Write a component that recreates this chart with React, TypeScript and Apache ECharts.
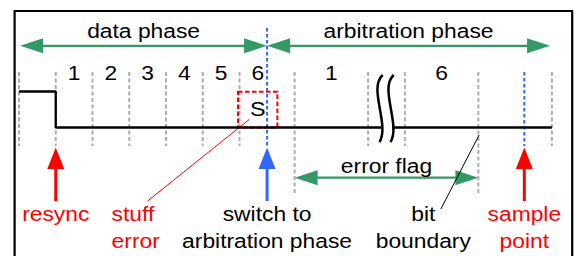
import React, { useEffect, useRef } from 'react';
import * as echarts from 'echarts';

// ---------- data (time in data-phase bit times, level 1 = recessive/high) ----------
const dataBitNumbers = ['1', '2', '3', '4', '5', '6'];
const dataBitCenters = [1.5, 2.5, 3.5, 4.5, 5.5, 6.5];
const arbBitNumbers = ['1', '6'];
const arbBitCenters = [8.5, 11.5];
const dataBitBoundaries = [0, 1, 2, 3, 4, 5, 6];
const arbBitBoundaries = [7.5, 9.5, 10.5, 12.5, 14.5];
const errorFlagRange = [7.5, 12.5];
const dataPhaseRange = [0.03, 6.75];
const arbPhaseRange = [6.75, 14.45];
const switchTime = 6.75;
const samplePointTime = 13.75;
const resyncTime = 1;
const stuffBitRange = [5.96, 7.03];
const signalBeforeBreak = [[0, 1], [1, 1], [1, 0], [9.86, 0]];
const signalAfterBreak = [[10.16, 0], [14.5, 0]];
const breakCurveTimes = [9.896, 10.196];
const stuffPointer = [[3.5, 201], [6.27, 119.3]]; // [time, row]
const boundaryPointer = [[11.48, 209], [12.52, 135]];
const bitBoundaryLabelTime = 11.0;
const stuffLabelTime = 2.52;

const phaseLabels = ['data phase', 'arbitration phase'];
const resyncLabel = ['resync'];
const stuffLabel = ['stuff', 'error'];
const switchLabel = ['switch to', 'arbitration phase'];
const boundaryLabel = ['bit', 'boundary'];
const sampleLabel = ['sample', 'point'];
const errorFlagLabel = 'error flag';
const stuffBitLabel = 'S';

// ---------- layout ----------
const W = 574;
const H = 256;
const X0 = 19;
const PX_PER_BIT = 36.75;
const T_MAX = 14.5;
const LOW_ROW = 127.5;
const PX_PER_LEVEL = 36;
const lv = (row: number) => (LOW_ROW - row) / PX_PER_LEVEL;

const GREEN = '#339966';
const RED = '#ff0000';
const BLUE = '#3366ff';
const GRAY = '#adadad';
const FONT = '"Liberation Sans", Arial, Helvetica, sans-serif';
const FS = 19.5;
const SX = 1.17;

function renderDiagram(_params: any, api: any) {
  const P = (t: number, row: number) => api.coord([t, lv(row)]);
  const kids: any[] = [];

  const vline = (t: number, r1: number, r2: number, color: string, dash: number[], w = 2) => {
    const a = P(t, r1);
    const b = P(t, r2);
    kids.push({ type: 'line', shape: { x1: a[0], y1: a[1], x2: b[0], y2: b[1] }, style: { stroke: color, lineWidth: w, lineDash: dash } });
  };
  const text = (t: number, baseline: number, str: string, color: string, align = 'center', size = FS) => {
    const p = P(t, baseline - 0.3465 * size);
    kids.push({
      type: 'text', x: p[0], y: p[1], scaleX: SX, z2: 10,
      style: { text: str, fill: color, fontSize: size, fontFamily: FONT, align, verticalAlign: 'middle' },
    });
  };
  const hArrow = (t1: number, t2: number, row: number) => {
    const a = P(t1, row);
    const b = P(t2, row);
    const L = 23, h = 7.5;
    kids.push({ type: 'line', shape: { x1: a[0] + L - 2, y1: a[1], x2: b[0] - L + 2, y2: b[1] }, style: { stroke: GREEN, lineWidth: 2.2 } });
    kids.push({ type: 'polygon', shape: { points: [[a[0], a[1]], [a[0] + L, a[1] - h], [a[0] + L, a[1] + h]] }, style: { fill: GREEN } });
    kids.push({ type: 'polygon', shape: { points: [[b[0], b[1]], [b[0] - L, b[1] - h], [b[0] - L, b[1] + h]] }, style: { fill: GREEN } });
  };
  const upArrow = (t: number, color: string) => {
    const tip = P(t, 147.5);
    const base = P(t, 169);
    const tail = P(t, 201);
    kids.push({ type: 'line', shape: { x1: base[0], y1: base[1] - 1, x2: tail[0], y2: tail[1] }, style: { stroke: color, lineWidth: 3 } });
    kids.push({ type: 'polygon', shape: { points: [[tip[0], tip[1]], [base[0] - 8.5, base[1]], [base[0] + 8.5, base[1]]] }, style: { fill: color } });
  };

  // bit boundaries
  const grayDash = [4, 2.5];
  [...dataBitBoundaries, ...arbBitBoundaries].forEach((t) => {
    const bottom = errorFlagRange.includes(t) ? 193 : 146;
    vline(t, 72, bottom, GRAY, grayDash, 2);
  });
  // switch & sample point lines
  vline(switchTime, 28, 146, BLUE, [3.5, 2.5], 2);
  vline(samplePointTime, 72, 146, BLUE, [3.5, 2.5], 2);

  // phase arrows
  hArrow(dataPhaseRange[0], dataPhaseRange[1], 45.8);
  hArrow(arbPhaseRange[0], arbPhaseRange[1], 45.8);
  hArrow(errorFlagRange[0], errorFlagRange[1], 177.7);

  // stuff bit box
  {
    const a = P(stuffBitRange[0], 91.7);
    const b = P(stuffBitRange[1], LOW_ROW);
    kids.push({ type: 'rect', shape: { x: a[0], y: a[1], width: b[0] - a[0], height: b[1] - a[1] }, style: { fill: 'none', stroke: RED, lineWidth: 2, lineDash: [4.5, 2.5] } });
  }

  // break curves
  breakCurveTimes.forEach((t) => {
    const o = P(t, 75);
    const x = o[0];
    const y0 = o[1];
    kids.push({
      type: 'bezierCurve',
      shape: { x1: x, y1: y0, cpx1: x - 14.7, cpy1: y0 + 13, cpx2: x + 7.3, cpy2: y0 + 50, x2: x - 3.2, y2: y0 + 67 },
      style: { stroke: '#000', lineWidth: 2.5, fill: 'none' },
    });
  });

  // up arrows
  upArrow(resyncTime, RED);
  upArrow(switchTime, BLUE);
  upArrow(samplePointTime, RED);

  // pointer lines
  {
    const a = P(stuffPointer[0][0], stuffPointer[0][1]);
    const b = P(stuffPointer[1][0], stuffPointer[1][1]);
    kids.push({ type: 'line', shape: { x1: a[0], y1: a[1], x2: b[0], y2: b[1] }, style: { stroke: RED, lineWidth: 1 } });
    const c = P(boundaryPointer[0][0], boundaryPointer[0][1]);
    const d = P(boundaryPointer[1][0], boundaryPointer[1][1]);
    kids.push({ type: 'line', shape: { x1: c[0], y1: c[1], x2: d[0], y2: d[1] }, style: { stroke: '#000', lineWidth: 1 } });
  }

  // texts
  text((dataPhaseRange[0] + dataPhaseRange[1]) / 2, 38.3, phaseLabels[0], '#000');
  text((arbPhaseRange[0] + arbPhaseRange[1]) / 2, 38.3, phaseLabels[1], '#000');
  dataBitNumbers.forEach((s, i) => text(dataBitCenters[i], 80, s, '#000'));
  arbBitNumbers.forEach((s, i) => text(arbBitCenters[i], 80, s, '#000'));
  text((stuffBitRange[0] + stuffBitRange[1]) / 2, 116, stuffBitLabel, '#000', 'center', 20);
  text((errorFlagRange[0] + errorFlagRange[1]) / 2, 172.7, errorFlagLabel, '#000');
  text(resyncTime, 221, resyncLabel[0], RED);
  text(stuffLabelTime, 221, stuffLabel[0], RED, 'left');
  text(stuffLabelTime, 248, stuffLabel[1], RED, 'left');
  text(switchTime, 221, switchLabel[0], '#000');
  text(switchTime, 248, switchLabel[1], '#000');
  text(bitBoundaryLabelTime, 221, boundaryLabel[0], '#000');
  text(bitBoundaryLabelTime, 248, boundaryLabel[1], '#000');
  text(samplePointTime, 221, sampleLabel[0], RED);
  text(samplePointTime, 248, sampleLabel[1], RED);

  return { type: 'group', children: kids };
}

function buildOption() {
  const signalStyle = { color: '#000', width: 2.3 };
  return {
    animation: false,
    backgroundColor: '#fff',
    grid: { left: X0, top: 0, width: PX_PER_BIT * T_MAX, height: H, containLabel: false },
    xAxis: { type: 'value', min: 0, max: T_MAX, show: false },
    yAxis: { type: 'value', min: lv(H), max: lv(0), show: false },
    graphic: [
      {
        type: 'rect', x: 0, y: 0,
        shape: { x: 14.6, y: 11, width: 557.6, height: 300 },
        style: { fill: 'none', stroke: '#000', lineWidth: 2.2 },
      },
    ],
    series: [
      { type: 'custom', data: [[0, 0]], renderItem: renderDiagram, silent: true, clip: false, z: 2 },
      { type: 'line', data: signalBeforeBreak, symbol: 'none', lineStyle: signalStyle, silent: true, z: 3 },
      { type: 'line', data: signalAfterBreak, symbol: 'none', lineStyle: signalStyle, silent: true, z: 3 },
    ],
  };
}

export default function App() {
  const ref = useRef<HTMLDivElement>(null);
  useEffect(() => {
    document.body.style.margin = '0';
    const chart = echarts.init(ref.current as HTMLDivElement, null, { renderer: 'svg' });
    chart.setOption(buildOption() as any);
    return () => chart.dispose();
  }, []);
  return <div ref={ref} style={{ width: W, height: H, position: 'absolute', left: 0, top: 0 }} />;
}
